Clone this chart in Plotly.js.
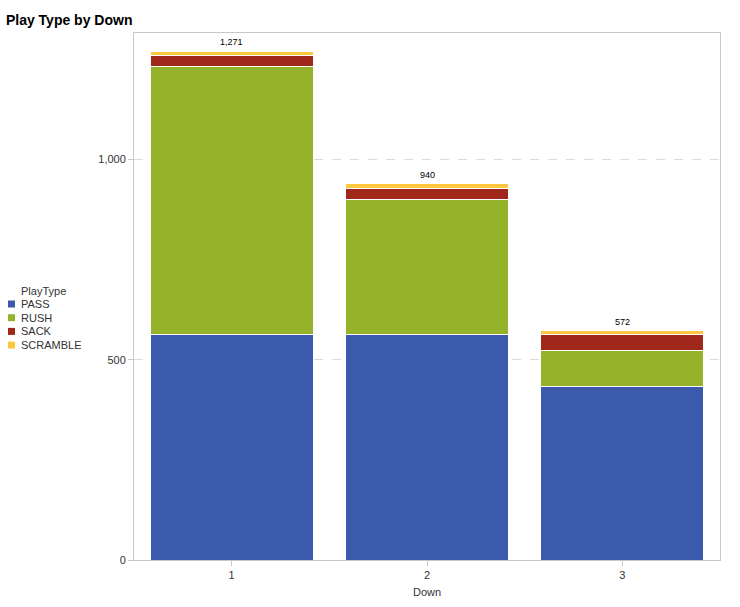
<!DOCTYPE html>
<html>
<head>
<meta charset="utf-8">
<script src="https://cdn.plot.ly/plotly-3.0.1.min.js"></script>
<style>
  html, body { margin: 0; padding: 0; background: #fff; }
  #chart { width: 740px; height: 607px; }
</style>
</head>
<body>
<div id="chart"></div>
<script>
// Plays per down, split by play type
const downs = ['1', '2', '3'];
const passPlays = [564, 562, 434];
const rushPlays = [669, 338, 88];
const sackPlays = [26, 28, 41];
const scramblePlays = [12, 12, 9];
const totalLabels = ['1,271', '940', '572'];

const playTypes = [
    { name: 'PASS', values: passPlays, color: '#3B5AAC' },
    { name: 'RUSH', values: rushPlays, color: '#94B32A' },
    { name: 'SACK', values: sackPlays, color: '#A0281A' },
    { name: 'SCRAMBLE', values: scramblePlays, color: '#FDC83F' }
];

const M = { t: 33, r: 20, b: 47, l: 134 };
const W = 740, H = 607;
const plotW = W - M.l - M.r, plotH = H - M.t - M.b;
// page pixel -> paper coordinate (for the legend block on the left)
const px2x = px => (px - M.l) / plotW;
const py2y = py => (H - M.b - py) / plotH;

const traces = playTypes.map(pt => ({
    type: 'bar',
    x: downs,
    y: pt.values,
    name: pt.name,
    marker: { color: pt.color, line: { color: '#ffffff', width: 1 } },
    hoverinfo: 'x+y+name'
}));

// bar totals, stacked heights summed from the series
const totals = downs.map((d, i) =>
    playTypes.reduce((s, pt) => s + pt.values[i], 0));

// on a category axis annotations take the category index
const annotations = downs.map((d, i) => ({
    x: i,
    y: totals[i],
    text: totalLabels[i],
    showarrow: false,
    yanchor: 'bottom',
    yshift: 2,
    font: { size: 9, color: '#000' }
}));

// compact SAS-style legend: title + swatch rows
annotations.push({
    xref: 'paper', yref: 'paper',
    x: px2x(19), y: py2y(291),
    xanchor: 'left', yanchor: 'middle',
    text: 'PlayType', showarrow: false,
    font: { size: 11, color: '#333' }
});
const shapes = [];
playTypes.forEach((pt, i) => {
    const cy = 304 + i * 13.7;
    shapes.push({
        type: 'rect', xref: 'paper', yref: 'paper',
        x0: px2x(8), x1: px2x(15), y0: py2y(cy + 3.5), y1: py2y(cy - 3.5),
        fillcolor: pt.color, line: { width: 0 }
    });
    annotations.push({
        xref: 'paper', yref: 'paper',
        x: px2x(19), y: py2y(cy),
        xanchor: 'left', yanchor: 'middle',
        text: pt.name, showarrow: false,
        font: { size: 11, color: '#333' }
    });
});

const layout = {
    width: W,
    height: H,
    paper_bgcolor: '#ffffff',
    plot_bgcolor: '#ffffff',
    font: { family: 'Liberation Sans, Arial, sans-serif', size: 11, color: '#333' },
    title: {
        text: '<b>Play Type by Down</b>',
        x: 0.008,
        xanchor: 'left',
        y: 0.967,
        yanchor: 'middle',
        font: { size: 14, color: '#000' }
    },
    margin: M,
    barmode: 'stack',
    bargap: 0.165,
    showlegend: false,
    xaxis: {
        type: 'category',
        title: { text: 'Down', font: { size: 11, color: '#333' }, standoff: 8 },
        showline: true,
        mirror: true,
        linecolor: '#c8c8c8',
        linewidth: 1,
        ticks: 'outside',
        ticklen: 5,
        tickcolor: '#c8c8c8',
        showgrid: false,
        zeroline: false,
        tickfont: { size: 11, color: '#333' }
    },
    yaxis: {
        range: [0, 1316],
        tickvals: [0, 500, 1000],
        tickformat: ',d',
        showline: true,
        mirror: true,
        linecolor: '#c8c8c8',
        linewidth: 1,
        ticks: 'outside',
        ticklen: 5,
        tickcolor: '#c8c8c8',
        showgrid: true,
        gridcolor: '#dcdcdc',
        griddash: 'dash',
        zeroline: false,
        tickfont: { size: 11, color: '#333' }
    },
    shapes: shapes,
    annotations: annotations
};

Plotly.newPlot('chart', traces, layout, { displayModeBar: false, responsive: false });
</script>
</body>
</html>
